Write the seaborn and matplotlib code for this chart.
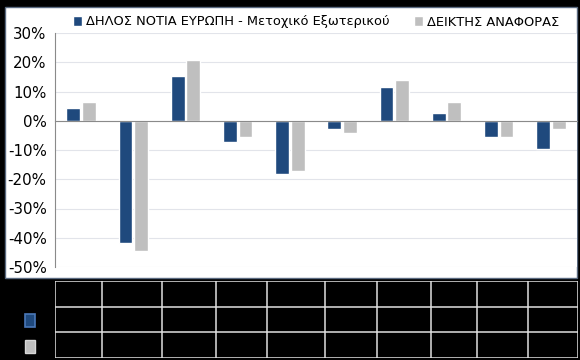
import matplotlib
matplotlib.use("Agg")
import numpy as np
import pandas as pd
import seaborn as sns
import matplotlib.pyplot as plt
from matplotlib.patches import Rectangle
from matplotlib.ticker import FuncFormatter, MultipleLocator, FixedLocator

# data (annual returns, %)
periods = ["1", "2", "3", "4", "5", "6", "7", "8", "9", "10"]
fund = [4.5, -41.8, 15.4, -7.1, -18.2, -2.7, 11.5, 2.5, -5.6, -9.7]
benchmark = [6.4, -44.5, 20.8, -5.6, -17.3, -4.2, 14.0, 6.5, -5.4, -2.7]
series_names = ["ΔΗΛΟΣ ΝΟΤΙΑ ΕΥΡΩΠΗ - Μετοχικό Εξωτερικού", "ΔΕΙΚΤΗΣ ΑΝΑΦΟΡΑΣ"]
colors = ["#1F497D", "#BFBFBF"]

df = pd.DataFrame({
    "period": periods * 2,
    "value": fund + benchmark,
    "series": [series_names[0]] * len(periods) + [series_names[1]] * len(periods),
})

sns.set_style("white")
plt.rcParams["font.family"] = ["DejaVu Sans"]
plt.rcParams["text.color"] = "black"

W, H = 580, 360
fig = plt.figure(figsize=(W / 100, H / 100), dpi=100, facecolor="black")

def box(x0, y0, x1, y1):
    # pixel box (top-left origin) -> figure fraction rect
    return [x0 / W, 1 - y1 / H, (x1 - x0) / W, (y1 - y0) / H]

# white chart panel
fig.patches.append(Rectangle((5 / W, 1 - 278 / H), 572 / W, 271 / H,
                             transform=fig.transFigure, facecolor="white",
                             edgecolor="#5a6a80", linewidth=1.0, zorder=-1))

ax = fig.add_axes(box(55, 33, 577, 267))
ax.set_facecolor("white")
sns.barplot(data=df, x="period", y="value", hue="series", palette=colors,
            width=0.6, gap=0.12, saturation=1, ax=ax, legend=False, zorder=3)

ax.set_ylim(-50, 30)
ax.set_xlim(-0.5, len(periods) - 0.5)
ax.yaxis.set_major_locator(MultipleLocator(10))
ax.yaxis.set_major_formatter(FuncFormatter(lambda v, _: f"{v:.0f}%"))
ax.grid(axis="y", color="#E2E4EA", linewidth=0.8, zorder=0)
ax.set_axisbelow(True)
ax.set_xlabel("")
ax.set_ylabel("")

for s in ["top", "right"]:
    ax.spines[s].set_visible(False)
ax.spines["left"].set_color("#8a8a8a")
ax.spines["bottom"].set_color("#8a8a8a")
ax.spines["bottom"].set_position(("data", 0))
ax.spines["bottom"].set_zorder(4)

ax.set_xticklabels([])
ax.tick_params(axis="x", which="major", length=0)
ax.xaxis.set_minor_locator(FixedLocator(np.arange(0.5, len(periods) - 0.5, 1)))
ax.tick_params(axis="x", which="minor", length=4, color="#8a8a8a", direction="out")
ax.tick_params(axis="y", length=4, color="#8a8a8a", direction="out",
               labelsize=10.8, labelcolor="black", pad=2)

# legend at the top
handles = [Rectangle((0, 0), 1, 1, facecolor=c) for c in colors]
fig.legend(handles, series_names, loc="center", bbox_to_anchor=(0.545, 1 - 22 / H),
           ncol=2, frameon=False, fontsize=9.4, handlelength=0.75, handleheight=0.75,
           handletextpad=0.3, columnspacing=1.8, labelcolor="black")

# empty data table underneath
tab = fig.add_axes(box(55, 281, 578, 358))
tab.set_facecolor("black")
tab.set_xlim(55, 578)
tab.set_ylim(358, 281)
for x in [55, 102, 162, 216, 267, 325, 377, 431, 477, 528, 578]:
    tab.axvline(x, color="#e0e0e0", linewidth=1.1)
for y in [281, 307, 332, 358]:
    tab.axhline(y, color="#e0e0e0", linewidth=1.1)
tab.set_xticks([])
tab.set_yticks([])
for s in tab.spines.values():
    s.set_visible(False)

# series keys in the table's row headers
fig.patches.append(Rectangle((25 / W, 1 - 327 / H), 10 / W, 13 / H, transform=fig.transFigure,
                             facecolor=colors[0], edgecolor="#4a78b8", linewidth=1.2))
fig.patches.append(Rectangle((25 / W, 1 - 353 / H), 10 / W, 13 / H, transform=fig.transFigure,
                             facecolor=colors[1], edgecolor="#d8d8d8", linewidth=1.0))

fig.savefig("out.png", dpi=100, facecolor="black")
